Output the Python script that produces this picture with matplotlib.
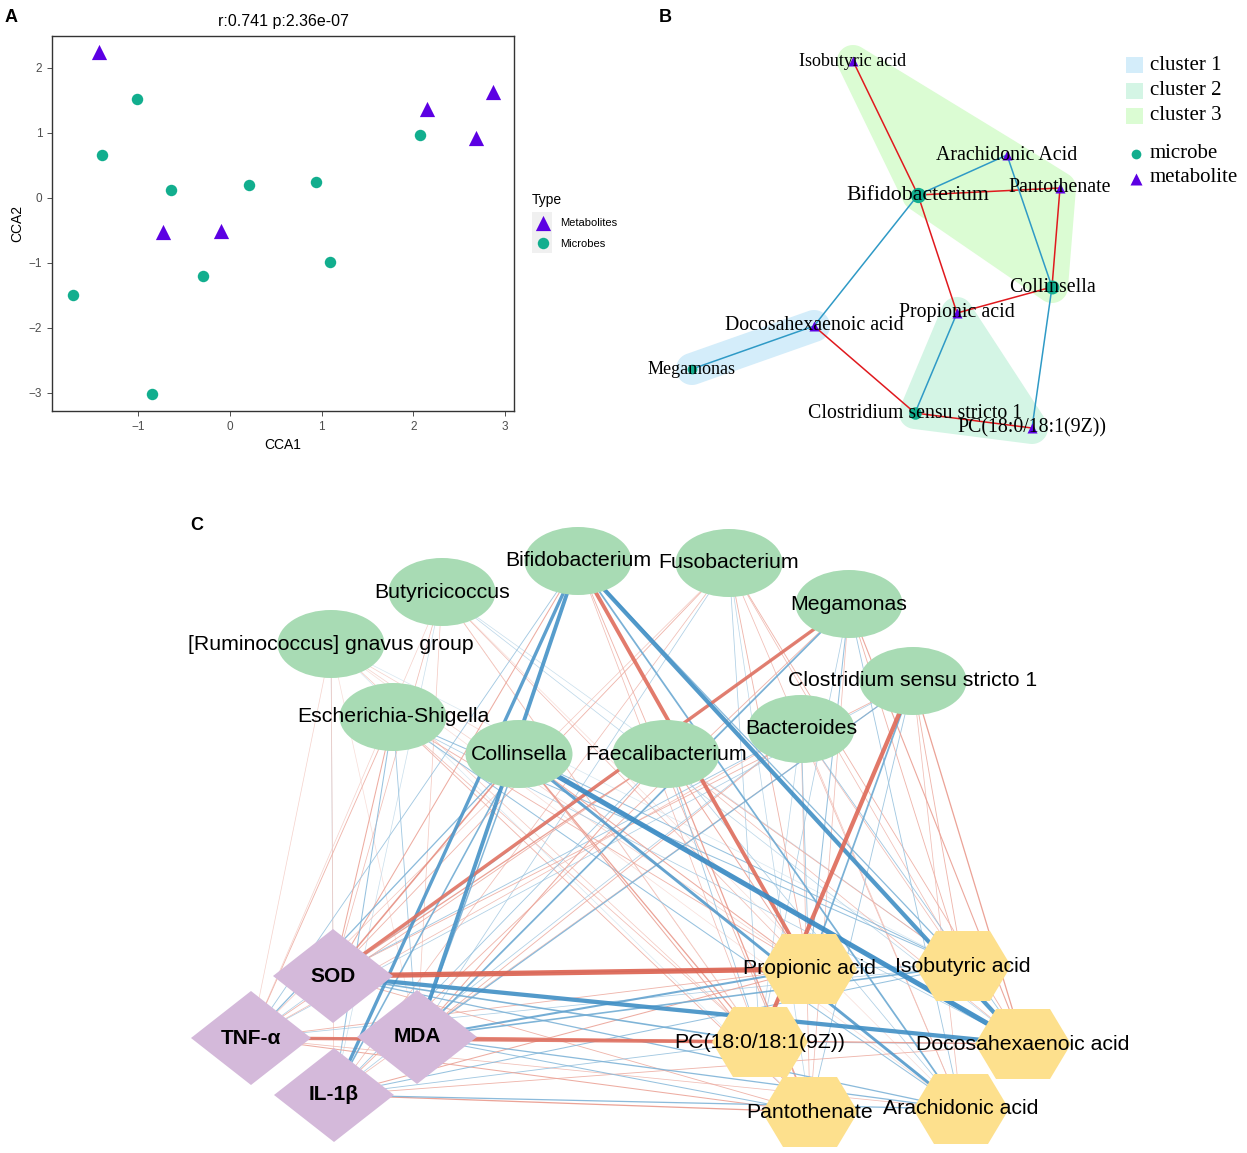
import numpy as np
import matplotlib.pyplot as plt
from matplotlib.patches import Ellipse, Polygon, Rectangle

plt.rcParams['font.family'] = ['Liberation Sans', 'DejaVu Sans']

# ---------------- panel A: CCA scores ----------------
met_cca1 = [-1.43, 2.15, 2.87, 2.69, -0.73, -0.10]
met_cca2 = [2.24, 1.37, 1.63, 0.91, -0.53, -0.51]
mic_cca1 = [-1.02, -1.40, -0.64, 0.21, 0.94, 2.07, 1.09, -0.30, -1.72, -0.85]
mic_cca2 = [1.51, 0.65, 0.11, 0.19, 0.24, 0.97, -0.99, -1.20, -1.50, -3.02]
cca_title = 'r:0.741 p:2.36e-07'

# ---------------- panel B: cluster network ----------------
b_nodes = ['Isobutyric acid', 'Arachidonic Acid', 'Pantothenate', 'Bifidobacterium',
           'Collinsella', 'Propionic acid', 'Docosahexaenoic acid', 'Megamonas',
           'Clostridium sensu stricto 1', 'PC(18:0/18:1(9Z))']
b_type = ['metabolite', 'metabolite', 'metabolite', 'microbe', 'microbe',
          'metabolite', 'metabolite', 'microbe', 'microbe', 'metabolite']
b_cluster = [3, 3, 3, 3, 3, 2, 1, 1, 2, 2]
b_edges = [('Isobutyric acid', 'Bifidobacterium', 1),
           ('Bifidobacterium', 'Pantothenate', 1),
           ('Bifidobacterium', 'Propionic acid', 1),
           ('Pantothenate', 'Collinsella', 1),
           ('Collinsella', 'Propionic acid', 1),
           ('Docosahexaenoic acid', 'Clostridium sensu stricto 1', 1),
           ('Clostridium sensu stricto 1', 'PC(18:0/18:1(9Z))', 1),
           ('Bifidobacterium', 'Arachidonic Acid', -1),
           ('Arachidonic Acid', 'Collinsella', -1),
           ('Bifidobacterium', 'Docosahexaenoic acid', -1),
           ('Docosahexaenoic acid', 'Megamonas', -1),
           ('Propionic acid', 'Clostridium sensu stricto 1', -1),
           ('Collinsella', 'PC(18:0/18:1(9Z))', -1)]

# ---------------- panel C: correlation network ----------------
microbes = ['Bifidobacterium', 'Fusobacterium', 'Butyricicoccus', 'Megamonas',
            '[Ruminococcus] gnavus group', 'Clostridium sensu stricto 1',
            'Escherichia-Shigella', 'Bacteroides', 'Collinsella', 'Faecalibacterium']
indices = ['SOD', 'TNF-α', 'MDA', 'IL-1β']
metabolites = ['Propionic acid', 'Isobutyric acid', 'PC(18:0/18:1(9Z))',
               'Docosahexaenoic acid', 'Pantothenate', 'Arachidonic acid']

# microbe x metabolite correlations
r_mic_met = [
    [0.68, -0.45, 0.30, -0.70, 0.35, -0.52],
    [0.35, 0.30, -0.30, 0.35, -0.25, 0.30],
    [0.30, -0.20, 0.25, -0.25, 0.20, 0.15],
    [-0.40, 0.35, -0.30, 0.42, 0.30, -0.35],
    [0.20, -0.15, 0.25, 0.20, -0.15, 0.10],
    [-0.52, 0.35, 0.70, 0.45, -0.35, 0.30],
    [0.35, -0.40, 0.30, -0.30, 0.35, -0.40],
    [-0.35, 0.30, -0.25, -0.35, 0.30, 0.25],
    [0.40, -0.40, 0.45, -0.74, 0.40, -0.62],
    [0.40, 0.35, -0.35, 0.30, 0.45, -0.30],
]
# microbe x index correlations
r_mic_idx = [
    [0.40, -0.35, -0.68, -0.65],
    [0.35, 0.25, -0.30, 0.30],
    [0.30, 0.20, 0.25, -0.20],
    [0.65, -0.30, -0.52, 0.35],
    [-0.20, 0.20, 0.15, 0.25],
    [0.35, -0.30, -0.45, 0.30],
    [0.40, 0.35, -0.35, -0.40],
    [-0.35, 0.30, 0.35, -0.30],
    [0.50, -0.45, -0.48, -0.50],
    [0.45, 0.35, 0.40, -0.35],
]
# index x metabolite correlations
r_idx_met = [
    [0.75, -0.40, -0.50, -0.70, 0.35, -0.45],
    [0.35, -0.30, 0.65, -0.35, 0.40, 0.30],
    [-0.55, -0.50, 0.55, 0.45, -0.40, -0.45],
    [0.40, -0.40, -0.35, 0.35, 0.45, -0.45],
]

# ---------------- layout (pixel positions of the network nodes) ----------------
pos_b = {'Isobutyric acid': (853, 61), 'Arachidonic Acid': (1007, 155),
         'Pantothenate': (1060, 188), 'Bifidobacterium': (918, 195),
         'Collinsella': (1052, 287), 'Propionic acid': (957, 313),
         'Docosahexaenoic acid': (814, 326), 'Megamonas': (692, 369),
         'Clostridium sensu stricto 1': (915, 413), 'PC(18:0/18:1(9Z))': (1032, 428)}
size_b = {'Isobutyric acid': 13, 'Bifidobacterium': 15.7, 'Megamonas': 13}
pos_c = {'Bifidobacterium': (578, 561), 'Fusobacterium': (729, 563),
         'Butyricicoccus': (442, 592), 'Megamonas': (849, 604),
         '[Ruminococcus] gnavus group': (331, 644), 'Clostridium sensu stricto 1': (913, 681),
         'Escherichia-Shigella': (393, 717), 'Bacteroides': (801, 729),
         'Collinsella': (519, 754), 'Faecalibacterium': (666, 754),
         'SOD': (333, 976), 'TNF-α': (251, 1038), 'MDA': (417, 1037), 'IL-1β': (334, 1095),
         'Propionic acid': (809, 969), 'Isobutyric acid': (963, 966),
         'PC(18:0/18:1(9Z))': (760, 1042), 'Docosahexaenoic acid': (1023, 1044),
         'Pantothenate': (810, 1112), 'Arachidonic acid': (961, 1109)}

TEAL = '#12AE8E'
PURPLE = '#5C00E3'

fig = plt.figure(figsize=(12.47, 11.53), dpi=100)
ov = fig.add_axes([0, 0, 1, 1])
ov.set_xlim(0, 1247)
ov.set_ylim(1153, 0)
ov.axis('off')

# ---------- panel A ----------
ax = fig.add_axes([52 / 1247, 1 - 411 / 1153, 462 / 1247, 375 / 1153])
ax.scatter(mic_cca1, mic_cca2, s=68, marker='o', color=TEAL, linewidths=0, zorder=3)
ax.scatter(met_cca1, met_cca2, s=120, marker='^', color=PURPLE, linewidths=0, zorder=3)
ax.set_xlim(-1.944, 3.10)
ax.set_ylim(-3.284, 2.487)
ax.set_xticks([-1, 0, 1, 2, 3])
ax.set_yticks([-3, -2, -1, 0, 1, 2])
ax.tick_params(labelsize=8.5, labelcolor='#4D4D4D', length=3.5, width=0.6, color='#333333')
for sp in ax.spines.values():
    sp.set_color('#333333')
    sp.set_linewidth(1.0)
ax.set_xlabel('CCA1', fontsize=10, labelpad=4)
ax.set_ylabel('CCA2', fontsize=10, labelpad=3)
ax.set_title(cca_title, fontsize=11.5, pad=7)

# panel A legend
ov.text(532, 200, 'Type', fontsize=10, va='center', ha='left')
ov.add_patch(Rectangle((532, 212), 20, 41, color='#F0F0F0', lw=0, zorder=1))
ov.scatter([543], [223], s=120, marker='^', color=PURPLE, linewidths=0, zorder=2)
ov.scatter([543], [243], s=68, marker='o', color=TEAL, linewidths=0, zorder=2)
ov.text(560, 223, 'Metabolites', fontsize=8, va='center', ha='left')
ov.text(560, 244, 'Microbes', fontsize=8, va='center', ha='left')


# ---------- panel B ----------
def convex_hull(points):
    pts = sorted(set(points))
    if len(pts) < 3:
        return pts

    def cross(o, a, b):
        return (a[0] - o[0]) * (b[1] - o[1]) - (a[1] - o[1]) * (b[0] - o[0])
    lower, upper = [], []
    for p in pts:
        while len(lower) >= 2 and cross(lower[-2], lower[-1], p) <= 0:
            lower.pop()
        lower.append(p)
    for p in reversed(pts):
        while len(upper) >= 2 and cross(upper[-2], upper[-1], p) <= 0:
            upper.pop()
        upper.append(p)
    return lower[:-1] + upper[:-1]


cluster_cols = {1: '#D4EDFA', 2: '#D4F5E5', 3: '#DBFCD3'}
ang = np.linspace(0, 2 * np.pi, 48, endpoint=False)
for cl in (3, 2, 1):
    pts = []
    for n, c in zip(b_nodes, b_cluster):
        if c == cl:
            x0, y0 = pos_b[n]
            pts += [(round(x0 + 16 * np.cos(a), 2), round(y0 + 16 * np.sin(a), 2)) for a in ang]
    ov.add_patch(Polygon(convex_hull(pts), closed=True, color=cluster_cols[cl], lw=0, zorder=1))

for a, b, s in b_edges:
    (x1, y1), (x2, y2) = pos_b[a], pos_b[b]
    ov.plot([x1, x2], [y1, y2], color='#E0191E' if s > 0 else '#2F9AC6', lw=1.1, zorder=2)

msize = {'Bifidobacterium': 11, 'Collinsella': 10, 'Clostridium sensu stricto 1': 9, 'Megamonas': 7}
for n, t in zip(b_nodes, b_type):
    x0, y0 = pos_b[n]
    if t == 'microbe':
        ov.plot(x0, y0, 'o', ms=msize[n], color=TEAL, mec='none', zorder=3)
    else:
        ov.plot(x0, y0, '^', ms=7, color=PURPLE, mec='none', zorder=3)
    ov.text(x0, y0, n, fontsize=size_b.get(n, 14.3), family=['Liberation Serif', 'DejaVu Serif'],
            ha='center', va='center', zorder=4)

# panel B legend
for i, cl in enumerate((1, 2, 3)):
    yc = 65 + 25.5 * i
    ov.add_patch(Rectangle((1126, yc - 8), 17, 16, color=cluster_cols[cl], lw=0))
    ov.text(1150, yc, f'cluster {cl}', fontsize=15, family=['Liberation Serif'], va='center')
ov.plot(1136, 154, 'o', ms=7, color=TEAL, mec='none')
ov.plot(1136, 179, '^', ms=9, color=PURPLE, mec='none')
ov.text(1150, 153, 'microbe', fontsize=15, family=['Liberation Serif'], va='center')
ov.text(1150, 178, 'metabolite', fontsize=15, family=['Liberation Serif'], va='center')


# ---------- panel C ----------
def edge_style(r):
    t = min(max((abs(r) - 0.15) / 0.6, 0.0), 1.0)
    if r > 0:
        c0, c1 = np.array([247, 218, 212]), np.array([220, 96, 78])
    else:
        c0, c1 = np.array([212, 229, 239]), np.array([52, 136, 194])
    col = (c0 + (c1 - c0) * t ** 0.9) / 255
    return col, (0.7 + 4.6 * t ** 3) * 0.72


edges = []
for i, m in enumerate(microbes):
    for j, k in enumerate(metabolites):
        edges.append((m, k, r_mic_met[i][j]))
    for j, k in enumerate(indices):
        edges.append((m, k, r_mic_idx[i][j]))
for i, m in enumerate(indices):
    for j, k in enumerate(metabolites):
        edges.append((m, k, r_idx_met[i][j]))
edges.sort(key=lambda e: abs(e[2]))
for a, b, r in edges:
    col, lw = edge_style(r)
    (x1, y1), (x2, y2) = pos_c[a], pos_c[b]
    ov.plot([x1, x2], [y1, y2], color=col, lw=lw, alpha=0.9, solid_capstyle='butt', zorder=2)

for m in microbes:
    x0, y0 = pos_c[m]
    ov.add_patch(Ellipse((x0, y0), 107, 68, color='#A8DBB4', lw=0, zorder=3))
for m in microbes:
    x0, y0 = pos_c[m]
    ov.text(x0, y0, m, fontsize=15.3, ha='center', va='center', zorder=5)

for m in indices:
    x0, y0 = pos_c[m]
    ov.add_patch(Polygon([(x0 - 60, y0), (x0, y0 - 47), (x0 + 60, y0), (x0, y0 + 47)],
                         closed=True, color='#D4B9DA', lw=0, zorder=3))
    ov.text(x0, y0, m, fontsize=15, fontweight='bold', ha='center', va='center', zorder=5)

hexa = np.array([(-48, 0), (-27, -35), (27, -35), (48, 0), (27, 35), (-27, 35)])
for m in metabolites:
    x0, y0 = pos_c[m]
    ov.add_patch(Polygon(hexa + [x0, y0], closed=True, color='#FDE08D', lw=0, zorder=3))
for m in metabolites:
    x0, y0 = pos_c[m]
    ov.text(x0, y0, m, fontsize=15.3, ha='center', va='center', zorder=5)

# panel letters
ov.text(5, 17, 'A', fontsize=13, fontweight='bold', va='center')
ov.text(659, 17, 'B', fontsize=13, fontweight='bold', va='center')
ov.text(190, 525, 'C', fontsize=13, fontweight='bold', va='center')

fig.savefig('out.png', dpi=100)
